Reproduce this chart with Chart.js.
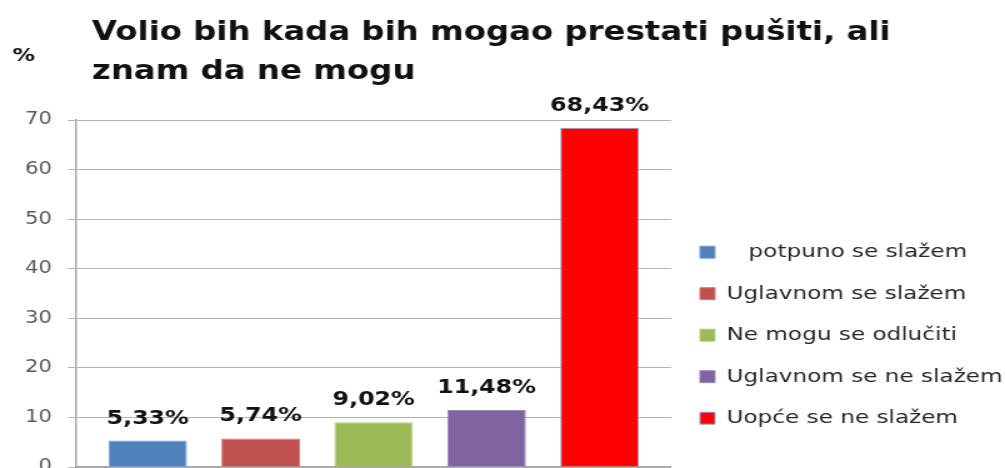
<!DOCTYPE html>
<html>
<head>
<meta charset="utf-8">
<script src="https://cdn.jsdelivr.net/npm/chart.js@4/dist/chart.umd.min.js"></script>
<style>
    html, body { margin: 0; padding: 0; overflow: hidden; background: #fff; }
</style>
</head>
<body>
<!-- la capture d'origine est étirée horizontalement, on étire le canvas pareil -->
<canvas id="graphique" width="812" height="510" style="width:1015px;height:510px;display:block"></canvas>
<script>
    //les données
    var titre = ["Volio bih kada bih mogao prestati pušiti, ali", "znam da ne mogu"];
    var reponses = ["   potpuno se slažem", "Uglavnom se slažem", "Ne mogu se odlučiti", "Uglavnom se ne slažem", "Uopće se ne slažem"];
    var pourcentages = [5.33, 5.74, 9.02, 11.48, 68.43];
    var couleurs = ["#4F81BD", "#C0504D", "#9BBB59", "#8064A2", "#FF0000"];
    var bordures = ["#7B9FCF", "#D27C7A", "#B4CC86", "#9D86BA", "#8FA3D6"];
    var graduations = [0, 10, 20, 30, 40, 50, 60, 70];

    var police = "'DejaVu Sans', sans-serif";

    //titre et "%"
    var textes = {
        id: 'textes',
        afterDraw: function (chart) {
            var ctx = chart.ctx;
            ctx.save();
            ctx.fillStyle = "#111";
            ctx.textAlign = "left";
            ctx.textBaseline = "alphabetic";
            ctx.font = "bold 25.9px " + police;
            ctx.fillText(titre[0], 73.6, 40);
            ctx.fillText(titre[1], 73.6, 79);
            ctx.font = "bold 18px " + police;
            ctx.textBaseline = "middle";
            ctx.fillText("%", 10, 56);
            ctx.restore();
        }
    };

    //étiquettes au-dessus des barres
    var etiquettes = {
        id: 'etiquettes',
        afterDatasetsDraw: function (chart) {
            var ctx = chart.ctx;
            ctx.save();
            ctx.font = "bold 19px " + police;
            ctx.fillStyle = "#111";
            ctx.textAlign = "center";
            ctx.textBaseline = "middle";
            chart.data.datasets.forEach(function (ds, i) {
                var barre = chart.getDatasetMeta(i).data[0];
                var txt = ds.data[0].toFixed(2).replace(".", ",") + "%";
                ctx.fillText(txt, barre.x, barre.y - 22);
            });
            ctx.restore();
        }
    };

    var datasets = [];
    for (var i = 0; i < reponses.length; i++) {
        datasets.push({
            label: reponses[i],
            data: [pourcentages[i]],
            backgroundColor: couleurs[i],
            borderColor: bordures[i],
            borderWidth: 1,
            categoryPercentage: 0.949,
            barPercentage: 0.696
        });
    }

    var ctx = document.getElementById('graphique').getContext('2d');
    var chart = new Chart(ctx, {
        type: 'bar',
        data: {
            labels: [""],
            datasets: datasets
        },
        options: {
            responsive: false,
            animation: false,
            layout: { padding: { top: 120, left: 7.2, bottom: 43, right: 0 } },
            plugins: {
                tooltip: { enabled: false },
                legend: {
                    position: 'right',
                    align: 'center',
                    maxWidth: 320,
                    title: { display: true, text: "", font: { size: 12 }, padding: { top: 34, bottom: 35 } },
                    labels: {
                        boxWidth: 12,
                        boxHeight: 12,
                        padding: 23,
                        color: "#262626",
                        font: { family: police, size: 18.5 }
                    }
                }
            },
            scales: {
                x: {
                    ticks: { display: false },
                    grid: { display: false, drawTicks: false },
                    border: { display: true, color: "#a6a6a6", width: 1.5 }
                },
                y: {
                    min: 0,
                    max: 70,
                    afterBuildTicks: function (axe) {
                        axe.ticks = graduations.map(function (v) { return { value: v }; });
                    },
                    ticks: {
                        padding: 12.8,
                        color: "#595959",
                        font: { family: police, size: 17 }
                    },
                    grid: {
                        color: "#b4b4b4",
                        lineWidth: 1,
                        tickLength: 6.4,
                        drawTicks: true
                    },
                    border: { display: true, color: "#a6a6a6", width: 1.5 }
                }
            }
        },
        plugins: [textes, etiquettes]
    });
</script>
</body>
</html>
